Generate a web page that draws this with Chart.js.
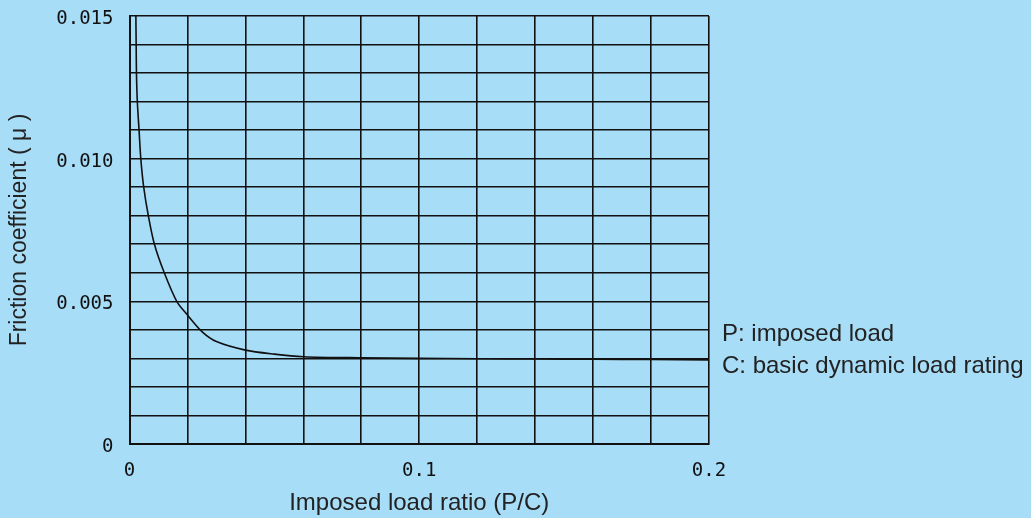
<!DOCTYPE html>
<html>
<head>
<meta charset="utf-8">
<script src="https://cdn.jsdelivr.net/npm/chart.js@4"></script>
<style>
  html, body { margin:0; padding:0; background:#a8ddf8; }
  #wrap { position:relative; width:1031px; height:518px; }
  canvas { display:block; }
  .note { position:absolute; left:722px; font-family:"Liberation Sans", Arial, sans-serif; font-size:24px; color:#222; white-space:nowrap; line-height:24px; }
</style>
</head>
<body>
<div id="wrap">
  <canvas id="c" width="1031" height="518"></canvas>
  <div class="note" style="top:321px">P: imposed load</div>
  <div class="note" style="top:353px">C: basic dynamic load rating</div>
</div>
<script>
const loadRatio = [0.0022, 0.0023, 0.0024, 0.0027, 0.0033, 0.0039, 0.0049, 0.0065, 0.0086, 0.0120, 0.0163, 0.020, 0.025, 0.030, 0.040, 0.050, 0.060, 0.080, 0.100, 0.120, 0.140, 0.160, 0.180, 0.200];
const friction  = [0.0150, 0.0140, 0.0130, 0.0120, 0.0110, 0.0100, 0.0090, 0.0080, 0.0070, 0.0060, 0.0050, 0.00452, 0.00394, 0.00359, 0.00329, 0.00315, 0.00306, 0.00302, 0.00300, 0.00299, 0.00298, 0.00297, 0.00296, 0.00295];
const xTickLabels = ['0','','','','','0.1','','','','','0.2'];
const yTickLabels = ['0','','','','','0.005','','','','','0.010','','','','','0.015'];
const xTitle = 'Imposed load ratio (P/C)';
const yTitle = 'Friction coefficient ( \u03BC )';

const points = loadRatio.map((x, i) => ({ x: x, y: friction[i] }));
const tickFont = { family: '"DejaVu Sans Mono", monospace', size: 19 };

new Chart(document.getElementById('c'), {
  type: 'scatter',
  data: {
    datasets: [{
      data: points,
      showLine: true,
      borderColor: '#111',
      borderWidth: 1.6,
      pointRadius: 0,
      tension: 0.3,
      fill: false
    }]
  },
  options: {
    responsive: false,
    animation: false,
    layout: { padding: { left: 0, right: 322, top: 16, bottom: 0 } },
    plugins: { legend: { display: false }, tooltip: { enabled: false } },
    scales: {
      x: {
        type: 'linear', min: 0, max: 0.2,
        afterFit: s => { s.height = 74; s.paddingLeft = 0; s.paddingRight = 0; },
        ticks: { stepSize: 0.02, autoSkip: false, maxRotation: 0, padding: 16, color: '#111', font: tickFont,
                 callback: (v, i) => xTickLabels[i] },
        grid: { color: '#111', lineWidth: 1.6, drawTicks: false },
        border: { color: '#111', width: 2 },
        title: { display: true, text: xTitle, color: '#222',
                 font: { family: '"Liberation Sans", Arial, sans-serif', size: 24, lineHeight: 1.2 },
                 padding: { top: 0, bottom: 0 } }
      },
      y: {
        type: 'linear', min: 0, max: 0.015,
        afterFit: s => { s.width = 129.5; s.paddingTop = 0; s.paddingBottom = 0; },
        ticks: { stepSize: 0.001, autoSkip: false, padding: 16, labelOffset: 3, color: '#111', font: tickFont,
                 callback: (v, i) => yTickLabels[i] },
        grid: { color: '#111', lineWidth: 1.6, drawTicks: false },
        border: { color: '#111', width: 2 },
        title: { display: true, text: yTitle, color: '#222',
                 font: { family: '"Liberation Sans", Arial, sans-serif', size: 23, lineHeight: 1.2 },
                 padding: { top: 6, bottom: 0 } }
      }
    }
  }
});
</script>
</body>
</html>
